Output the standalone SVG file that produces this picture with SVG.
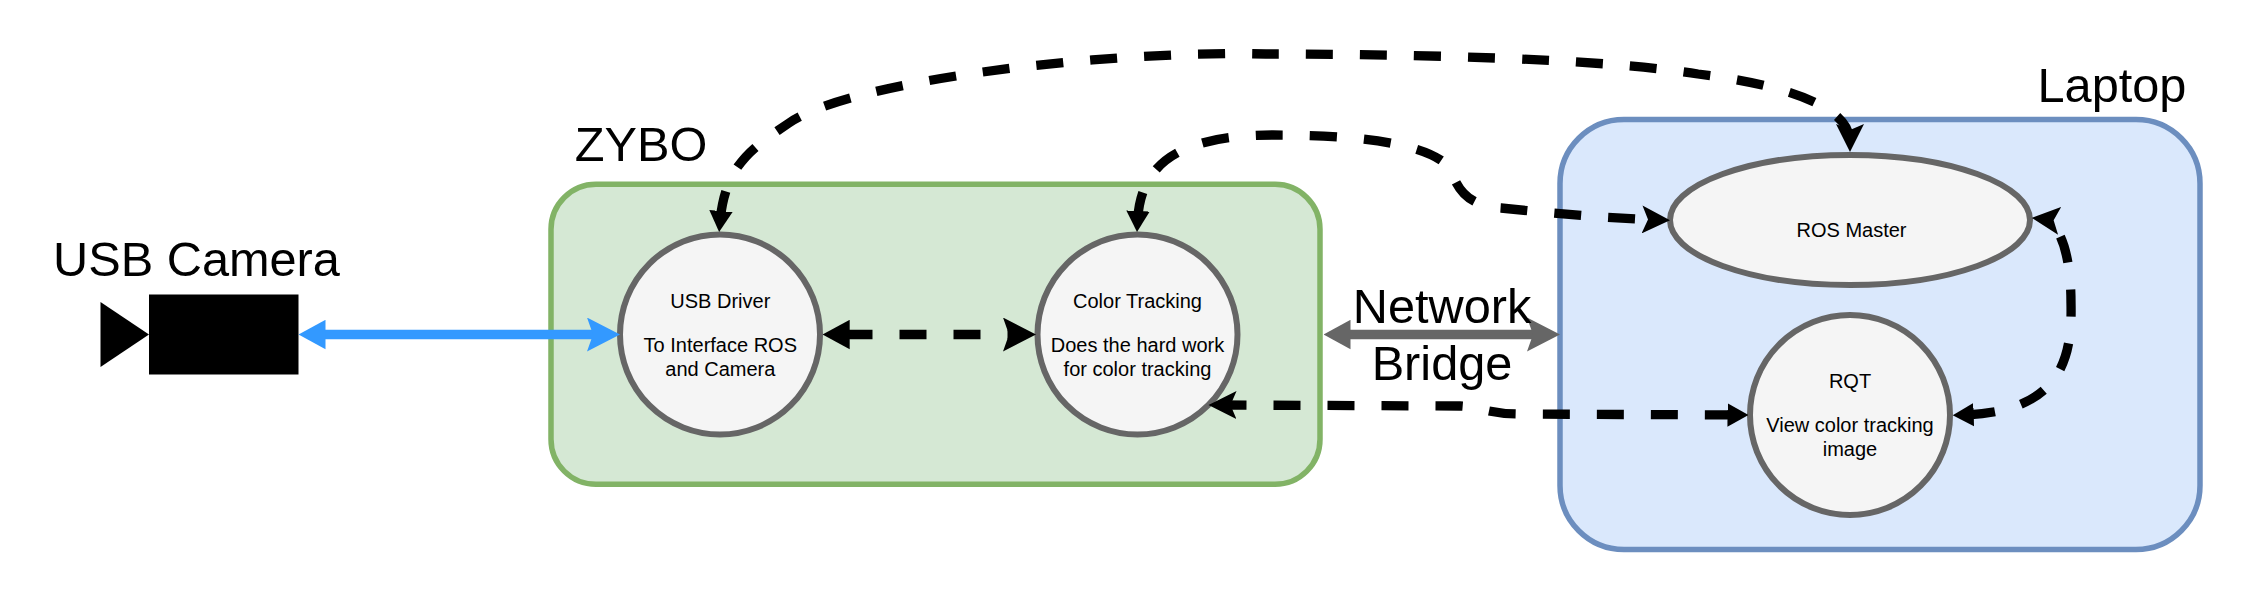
<svg xmlns="http://www.w3.org/2000/svg" width="2253" height="602" viewBox="0 0 2253 602">
<style>
.node{fill:#f5f5f5;stroke:#666666;stroke-width:6}
.big{font-family:"Liberation Sans",Arial,sans-serif;font-size:48.700px;fill:#000;text-anchor:middle}
.small{font-family:"Liberation Sans",Arial,sans-serif;font-size:20px;fill:#000;text-anchor:middle}
.conn{fill:none;stroke-width:9.300}
.dash{stroke:#000;stroke-dasharray:27 27}
</style>
<defs>
<marker id="ka" markerUnits="userSpaceOnUse" viewBox="0 0 27 30" markerWidth="27" markerHeight="30" refX="17" refY="15" orient="auto-start-reverse"><path d="M27 15L0 0.300L0 29.700Z" fill="#000"/></marker>
<marker id="kb" markerUnits="userSpaceOnUse" viewBox="0 0 33 34" markerWidth="33" markerHeight="34" refX="23" refY="17" orient="auto-start-reverse"><path d="M33 17L0 0L6 17L0 34Z" fill="#000"/></marker>
<marker id="kc" markerUnits="userSpaceOnUse" viewBox="0 0 21 24" markerWidth="21" markerHeight="24" refX="11" refY="12" orient="auto-start-reverse"><path d="M21 12L0 0.300L0 23.700Z" fill="#000"/></marker>
<marker id="kd" markerUnits="userSpaceOnUse" viewBox="0 0 28 28" markerWidth="28" markerHeight="28" refX="18" refY="14" orient="auto-start-reverse"><path d="M28 14L0 0L6 14L0 28Z" fill="#000"/></marker>
<marker id="ba" markerUnits="userSpaceOnUse" viewBox="0 0 27 30" markerWidth="27" markerHeight="30" refX="17" refY="15" orient="auto-start-reverse"><path d="M27 15L0 0.300L0 29.700Z" fill="#3399ff"/></marker>
<marker id="bb" markerUnits="userSpaceOnUse" viewBox="0 0 33 34" markerWidth="33" markerHeight="34" refX="23" refY="17" orient="auto-start-reverse"><path d="M33 17L0 0L6 17L0 34Z" fill="#3399ff"/></marker>
<marker id="ga" markerUnits="userSpaceOnUse" viewBox="0 0 27 30" markerWidth="27" markerHeight="30" refX="17" refY="15" orient="auto-start-reverse"><path d="M27 15L0 0.300L0 29.700Z" fill="#666666"/></marker>
<marker id="gb" markerUnits="userSpaceOnUse" viewBox="0 0 33 34" markerWidth="33" markerHeight="34" refX="23" refY="17" orient="auto-start-reverse"><path d="M33 17L0 0L6 17L0 34Z" fill="#666666"/></marker>
</defs>
<rect width="2253" height="602" fill="#fff"/>
<g id="zybo"><rect x="551" y="184.300" width="769" height="300" rx="45" ry="45" fill="#d5e8d4" stroke="#82b366" stroke-width="5.500"/><text class="big" x="641" y="161">ZYBO</text></g>
<g id="laptop"><rect x="1560" y="119.500" width="640" height="430" rx="64" ry="64" fill="#dae8fc" stroke="#6c8ebf" stroke-width="5.500"/><text class="big" x="2112" y="102">Laptop</text></g>
<g id="usb-camera"><rect x="149" y="294.500" width="149.500" height="80" fill="#000"/><path d="M100.500 302L149 334.500L100.500 367Z" fill="#000"/><text class="big" x="196.500" y="276">USB Camera</text></g>
<g id="usb-driver"><circle class="node" cx="720" cy="334.500" r="100"/><text class="small"><tspan x="720.300" y="308">USB Driver</tspan><tspan x="720.300" y="352">To Interface ROS</tspan><tspan x="720.300" y="376">and Camera</tspan></text></g>
<g id="color-tracking"><circle class="node" cx="1137.500" cy="334.500" r="100"/><text class="small"><tspan x="1137.500" y="308">Color Tracking</tspan><tspan x="1137.500" y="352">Does the hard work</tspan><tspan x="1137.500" y="376">for color tracking</tspan></text></g>
<g id="ros-master"><ellipse class="node" cx="1850" cy="220" rx="180" ry="65"/><text class="small" x="1851.500" y="237">ROS Master</text></g>
<g id="rqt"><circle class="node" cx="1850" cy="415" r="100"/><text class="small"><tspan x="1850" y="388">RQT</tspan><tspan x="1850" y="432">View color tracking</tspan><tspan x="1850" y="456">image</tspan></text></g>
<g id="connectors">
<path class="conn" stroke="#3399ff" d="M308.500 334.500L610 334.500" marker-start="url(#ba)" marker-end="url(#bb)"/>
<path class="conn" stroke="#666666" d="M1333.500 334.500L1550 334.500" marker-start="url(#ga)" marker-end="url(#gb)"/>
<path class="conn dash" stroke-dashoffset="-4" marker-start="url(#kc)" marker-end="url(#kd)" d="M720 222C725 165 752 148 789 123C850 81 1100 50 1266 54C1400 54 1600 58 1698 74C1780 84 1850 105 1850 142"/>
<path class="conn dash" stroke-dashoffset="-3" marker-start="url(#kc)" marker-end="url(#kd)" d="M1137.500 222C1140 170 1170 135 1273 135C1340 135 1420 140 1447 165C1456 175 1455 205 1501 208C1540 212 1600 218 1660 220"/>
<path class="conn dash" stroke-dashoffset="-12.800" marker-start="url(#ka)" marker-end="url(#kb)" d="M832.700 334.500L1026 334.500"/>
<path class="conn dash" stroke-dashoffset="-1" marker-start="url(#kd)" marker-end="url(#kc)" d="M1218.500 405L1460 406C1480 407 1490 414 1520 414L1738.500 415"/>
<path class="conn dash" stroke-dashoffset="-27" marker-start="url(#kd)" marker-end="url(#kc)" d="M2041.700 219C2060 221 2071 255 2071 303C2072 352 2066 412 1962.700 415"/>
</g>
<g id="network-bridge-label"><text class="big"><tspan x="1442" y="323">Network</tspan><tspan x="1442" y="380">Bridge</tspan></text></g>
</svg>
